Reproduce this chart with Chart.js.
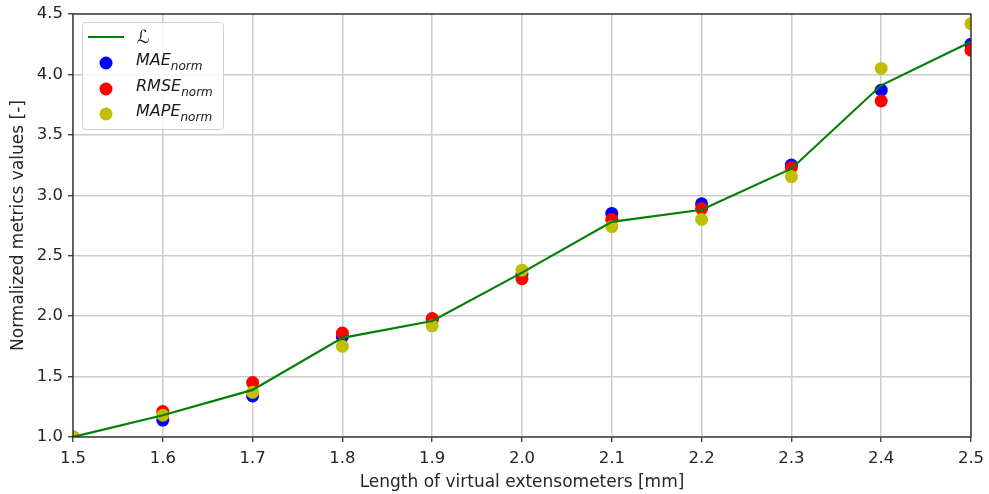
<!DOCTYPE html>
<html>
<head>
<meta charset="utf-8">
<script src="https://cdn.jsdelivr.net/npm/chart.js@4.4.1/dist/chart.umd.min.js"></script>
<style>
  html, body { margin: 0; padding: 0; background: #fff; }
  #wrap { width: 989px; height: 494px; }
</style>
</head>
<body>
<div id="wrap"><canvas id="c" width="989" height="494"></canvas></div>
<script>
// values
var lengths = [1.5, 1.6, 1.7, 1.8, 1.9, 2.0, 2.1, 2.2, 2.3, 2.4, 2.5];
var lossL = [1.0, 1.18, 1.39, 1.82, 1.96, 2.36, 2.78, 2.88, 3.22, 3.91, 4.27];
var maeNorm = [1.0, 1.14, 1.34, 1.83, 1.97, 2.35, 2.85, 2.93, 3.25, 3.87, 4.25];
var rmseNorm = [1.0, 1.21, 1.45, 1.86, 1.98, 2.31, 2.80, 2.89, 3.23, 3.78, 4.20];
var mapeNorm = [1.0, 1.18, 1.37, 1.75, 1.92, 2.38, 2.74, 2.80, 3.155, 4.05, 4.42];
var xTicks = [1.5, 1.6, 1.7, 1.8, 1.9, 2.0, 2.1, 2.2, 2.3, 2.4, 2.5];
var yTicks = [1.0, 1.5, 2.0, 2.5, 3.0, 3.5, 4.0, 4.5];

var FONT = "'DejaVu Sans', sans-serif";

function pts(ys) {
  return lengths.map(function (x, i) {
    return { x: x, y: ys[i] };
  });
}

function scatterSet(label, ys, color, order) {
  return {
    type: "scatter",
    label: label,
    data: pts(ys),
    backgroundColor: color,
    borderColor: color,
    borderWidth: 0,
    pointRadius: 6.5,
    pointHoverRadius: 6.5,
    clip: 0,
    order: order,
  };
}

// frame around the plot area (matplotlib spines)
var framePlugin = {
  id: "frame",
  afterDatasetsDraw: function (chart) {
    var a = chart.chartArea;
    var ctx = chart.ctx;
    ctx.save();
    ctx.strokeStyle = "#262626";
    ctx.lineWidth = 1.3;
    ctx.strokeRect(a.left, a.top, a.right - a.left, a.bottom - a.top);
    ctx.restore();
  },
};

// legend drawn inside the axes, upper left
var legendPlugin = {
  id: "insideLegend",
  afterDraw: function (chart) {
    var ctx = chart.ctx;
    var x0 = 82, y0 = 22, w = 141, h = 107;
    ctx.save();
    ctx.fillStyle = "rgba(255,255,255,0.85)";
    ctx.strokeStyle = "#d0d0d0";
    ctx.lineWidth = 1;
    ctx.beginPath();
    ctx.roundRect(x0 + 0.5, y0 + 0.5, w, h, 3);
    ctx.fill();
    ctx.stroke();

    // line entry
    ctx.strokeStyle = "#008000";
    ctx.lineWidth = 2.2;
    ctx.beginPath();
    ctx.moveTo(88, 37);
    ctx.lineTo(124, 37);
    ctx.stroke();
    ctx.fillStyle = "#1a1a1a";
    ctx.textBaseline = "middle";
    ctx.font = "italic 18px " + FONT;
    ctx.fillText("\u2112", 137, 38);

    var entries = [
      ["MAE", "#0000ff", 63],
      ["RMSE", "#ff0000", 89],
      ["MAPE", "#bfbf00", 114],
    ];
    entries.forEach(function (e) {
      ctx.fillStyle = e[1];
      ctx.beginPath();
      ctx.arc(106, e[2], 6.5, 0, Math.PI * 2);
      ctx.fill();
      ctx.fillStyle = "#1a1a1a";
      ctx.font = "italic 16px " + FONT;
      ctx.textBaseline = "middle";
      ctx.fillText(e[0], 136, e[2] - 2);
      var tw = ctx.measureText(e[0]).width;
      ctx.font = "italic 12px " + FONT;
      ctx.fillText("norm", 136 + tw, e[2] + 4);
    });
    ctx.restore();
  },
};

new Chart(document.getElementById("c").getContext("2d"), {
  type: "line",
  data: {
    datasets: [
      {
        type: "line",
        label: "L",
        data: pts(lossL),
        borderColor: "#008000",
        borderWidth: 2.2,
        pointRadius: 0,
        fill: false,
        tension: 0,
        clip: 0,
        order: 0,
      },
      scatterSet("MAE_norm", maeNorm, "#0000ff", 3),
      scatterSet("RMSE_norm", rmseNorm, "#ff0000", 2),
      scatterSet("MAPE_norm", mapeNorm, "#bfbf00", 1),
    ],
  },
  options: {
    responsive: false,
    animation: false,
    layout: { padding: { top: 14, right: 18, left: 0, bottom: 0 } },
    plugins: {
      legend: { display: false },
      tooltip: { enabled: false },
    },
    scales: {
      x: {
        type: "linear",
        min: 1.5,
        max: 2.5,
        afterBuildTicks: function (axis) {
          axis.ticks = xTicks.map(function (v) {
            return { value: v };
          });
        },
        afterFit: function (axis) {
          axis.height = 57;
          axis.paddingRight = 0;
          axis.paddingLeft = 0;
        },
        ticks: {
          color: "#262626",
          font: { family: FONT, size: 16.5 },
          padding: 7,
          maxRotation: 0,
          callback: function (v) {
            return Number(v).toFixed(1);
          },
        },
        grid: {
          color: "#cccccc",
          lineWidth: 1.5,
          tickColor: "#262626",
          tickLength: 5,
          tickWidth: 1.2,
        },
        border: { display: false },
        title: {
          display: true,
          text: "Length of virtual extensometers [mm]",
          color: "#262626",
          font: { family: FONT, size: 17 },
          padding: { top: 0, bottom: 1 },
        },
      },
      y: {
        type: "linear",
        min: 1.0,
        max: 4.5,
        afterBuildTicks: function (axis) {
          axis.ticks = yTicks.map(function (v) {
            return { value: v };
          });
        },
        afterFit: function (axis) {
          axis.width = 73;
          axis.paddingTop = 0;
          axis.paddingBottom = 0;
        },
        ticks: {
          color: "#262626",
          font: { family: FONT, size: 16.5 },
          padding: 5,
          callback: function (v) {
            return Number(v).toFixed(1);
          },
        },
        grid: {
          color: "#cccccc",
          lineWidth: 1.5,
          tickColor: "#262626",
          tickLength: 5,
          tickWidth: 1.2,
        },
        border: { display: false },
        title: {
          display: true,
          text: "Normalized metrics values [-]",
          color: "#262626",
          font: { family: FONT, size: 17 },
          padding: { top: 8, bottom: 0 },
        },
      },
    },
  },
  plugins: [framePlugin, legendPlugin],
});
</script>
</body>
</html>
